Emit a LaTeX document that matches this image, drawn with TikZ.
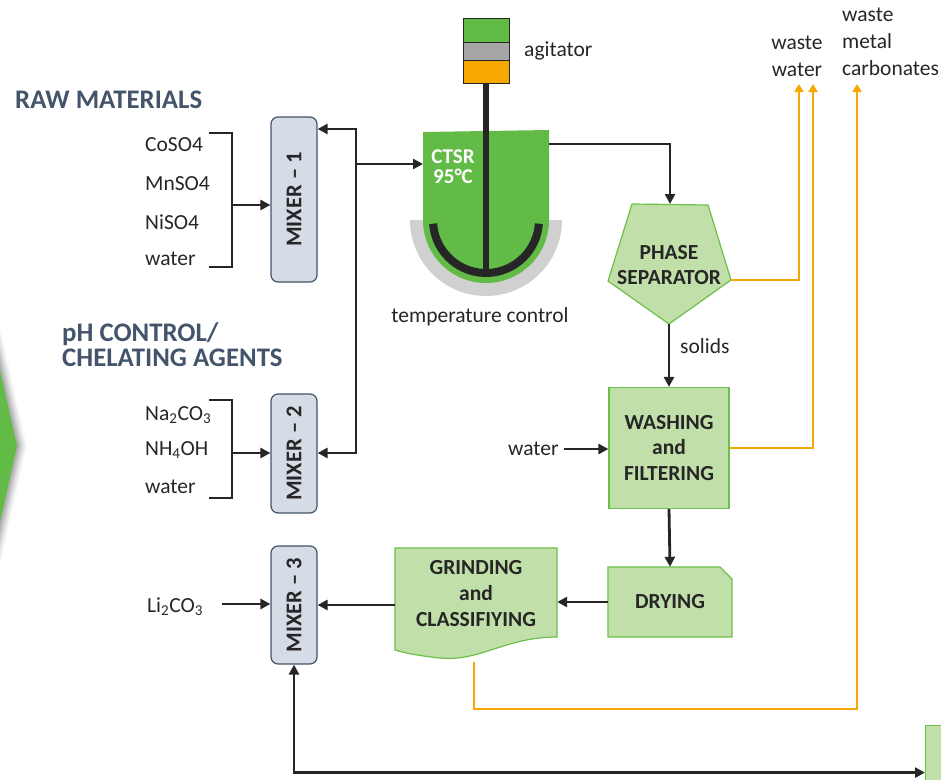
\documentclass[tikz,border=0pt]{standalone}
\usepackage{fontspec}
\setmainfont{Carlito}
\usetikzlibrary{positioning,arrows.meta,shadows.blur}

\definecolor{ink}{HTML}{262626}
\definecolor{slate}{HTML}{44546A}
\definecolor{mixfill}{HTML}{D6DCE5}
\definecolor{leaf}{HTML}{62BB46}
\definecolor{paleleaf}{HTML}{C1DFA9}
\definecolor{leafedge}{HTML}{6CC04A}
\definecolor{amber}{HTML}{F7A800}
\definecolor{jacket}{HTML}{D0D0D0}
\definecolor{motor}{HTML}{A6A6A6}

\begin{document}
\begin{tikzpicture}[x=1pt, y=-1pt,
    every node/.style={font=\fontsize{21.5}{26}\selectfont, text=ink, inner sep=0pt},
    head/.style={font=\bfseries\fontsize{26.8}{25}\selectfont, text=slate, align=left, anchor=west},
    feed/.style={anchor=west},
    mixer/.style={draw=slate, fill=mixfill, line width=1.2pt, rounded corners=7pt,
                  minimum width=46pt},
    mixtext/.style={rotate=90, font=\bfseries\fontsize{22.5}{24}\selectfont},
    unit/.style={draw=leafedge, fill=paleleaf, line width=1.2pt},
    utext/.style={font=\bfseries\fontsize{21.5}{25.5}\selectfont, align=center},
    motorbox/.style={draw=ink, line width=1pt, outer sep=0pt, minimum width=46pt},
    arr/.style={-{Triangle[length=10pt,width=10pt]}, line width=2.8pt, draw=ink},
    both/.style={{Triangle[length=10pt,width=10pt]}-{Triangle[length=10pt,width=10pt]},
                 line width=2.8pt, draw=ink},
    brace/.style={line width=2.2pt, draw=ink},
    waste/.style={-{Triangle[length=8pt,width=9pt]}, line width=2.8pt, draw=amber},
]
  \useasboundingbox (0,0) rectangle (941,779);
  \clip (0,0) rectangle (941,779);

  % chevron on the left edge
  \fill[leaf, blur shadow={shadow xshift=4pt, shadow yshift=0pt, shadow blur radius=6pt}]
    (-20,281) -- (17,446) -- (-20,611) -- cycle;

  % Headings
  \node[head] (raw) at (15,100) {RAW MATERIALS};
  \node[head] (ph)  at (62,345) {pH CONTROL/\\CHELATING AGENTS};

  % Feeds to mixer 1
  \node[feed] (co) at (145,145) {CoSO4};
  \node[feed] (mn) at (145,184) {MnSO4};
  \node[feed] (ni) at (145,222) {NiSO4};
  \node[feed] (w1) at (145,259) {water};
  % Feeds to mixer 2
  \node[feed] (na) at (145,415) {Na\textsubscript{2}CO\textsubscript{3}};
  \node[feed] (nh) at (145,450) {NH\textsubscript{4}OH};
  \node[feed] (w2) at (145,487) {water};
  % Feed to mixer 3
  \node[feed] (li2co3) at (147,607) {Li\textsubscript{2}CO\textsubscript{3}};

  % Mixers
  \node[mixer, minimum height=165pt, label={[mixtext]center:MIXER -- 1}] (m1) at (294,199.5) {};
  \node[mixer, minimum height=119pt, label={[mixtext]center:MIXER -- 2}] (m2) at (294,453.5) {};
  \node[mixer, minimum height=118pt, label={[mixtext]center:MIXER -- 3}] (m3) at (294,605) {};

  % Brackets
  \draw[brace] (209,133) -| (232,267) -- (209,267);
  \draw[brace] (209,400) -| (232,498) -- (209,498);
  \coordinate (j1) at (232,205);
  \coordinate (j2) at (232,453);
  \coordinate (li) at (222,604);
  \draw[arr] (j1) -- (j1 -| m1.west);
  \draw[arr] (j2) -- (j2 -| m2.west);
  \draw[arr] (li) -- (li -| m3.west);

  % Reactor: jacket, vessel, impeller
  \fill[jacket] (410,220) -- (562,220) arc[start angle=0, end angle=180, radius=76] -- cycle;
  \fill[leaf] (423,132) -- (549,130) -- (549,220) arc[start angle=0, end angle=180, radius=63] -- cycle;
  \draw[ink, line width=8pt] (486,220) ++(176:53) arc[start angle=176, end angle=4, radius=53];
  \node[utext, text=white, font=\bfseries\fontsize{21}{20}\selectfont] (ctsr) at (453,167) {CTSR\\95°C};
  \node (temp) at (480,317) {temperature control};

  % Agitator
  \node[motorbox, fill=leaf,  minimum height=24pt] (ag1) at (486,30) {};
  \node[motorbox, fill=motor, minimum height=18pt, below=0pt of ag1] (ag2) {};
  \node[motorbox, fill=amber, minimum height=23pt, below=0pt of ag2] (ag3) {};
  \draw[ink, line width=6pt] (ag3.south) -- (486,272);
  \node[right=15pt of ag2] (agit) {agitator};

  % Recycle bus to mixers 1 and 2, feed to reactor
  \coordinate (bus1) at (356,129);
  \coordinate (bus2) at (356,453);
  \coordinate (bus3) at (356,164);
  \coordinate (tankL) at (423,164);
  \coordinate (tankR) at (549,144);
  \draw[both] (bus1 -| m1.east) -- (bus1) -- (bus2) -- (bus2 -| m2.east);
  \draw[arr] (bus3) -- (tankL);

  % Phase separator
  \draw[unit] (632,204) coordinate (sepL) -- (708,205) -- (731,280) coordinate (sepR)
    -- (669,324) coordinate (sepB) -- (608,281) -- cycle;
  \coordinate (sepT) at (670,204);
  \node[utext] (sep) at (669,265) {PHASE\\SEPARATOR};
  \draw[arr] (tankR) -| (sepT);

  % Washing and filtering
  \node[unit, utext, minimum width=120pt, minimum height=121pt] (wash) at (669,448) {WASHING\\and\\FILTERING};
  \draw[arr] (sepB) -- (wash.north);
  \node[anchor=west] (solids) at (680,346) {solids};
  \node[anchor=west] (w3) at (508,449) {water};
  \draw[arr] ([xshift=5pt]w3.east) -- (w3.east -| wash.west);

  % Drying
  \draw[unit] (608,567) -- (720,567) -- (732,579) -- (732,637) -- (608,637) -- cycle;
  \node[utext, minimum width=124pt, minimum height=70pt] (dry) at (670,602) {DRYING};
  \draw[arr] (wash.south) -- (dry.north);

  % Grinding and classifying
  \draw[unit] (395,548) -- (557,548) -- (557,637)
    .. controls (505,637) and (480,662) .. (440,658)
    .. controls (420,656) and (405,653) .. (395,650) -- cycle;
  \node[utext, minimum width=162pt, minimum height=89pt, font=\bfseries\fontsize{21.5}{26}\selectfont]
    (grind) at (476,594) {GRINDING\\and\\CLASSIFIYING};
  \draw[arr] (dry.west) -- (dry.west -| grind.east);
  \draw[arr] (m3.east -| grind.west) -- (m3.east);

  % Next unit, bottom right
  \node[unit, minimum width=40pt, minimum height=94pt, anchor=north west] (pack) at (925,725) {};
  \draw[both] (m3.south) |- (pack.west);

  % Waste streams
  \node[align=center, font=\fontsize{21.5}{27}\selectfont] (ww) at (797,56) {waste\\water};
  \node[align=left, anchor=west, font=\fontsize{21.5}{27}\selectfont] (wmc) at (842,42) {waste\\metal\\carbonates};
  \coordinate (ww1) at (799,84);
  \coordinate (ww2) at (813,84);
  \coordinate (wmcIn) at (857,84);
  \coordinate (gout) at (474,662);
  \draw[waste] (sepR) -| (ww1);
  \draw[waste] (wash.east) -| (ww2);
  \draw[waste] (gout) -- (474,709) -| (wmcIn);
\end{tikzpicture}
\end{document}
